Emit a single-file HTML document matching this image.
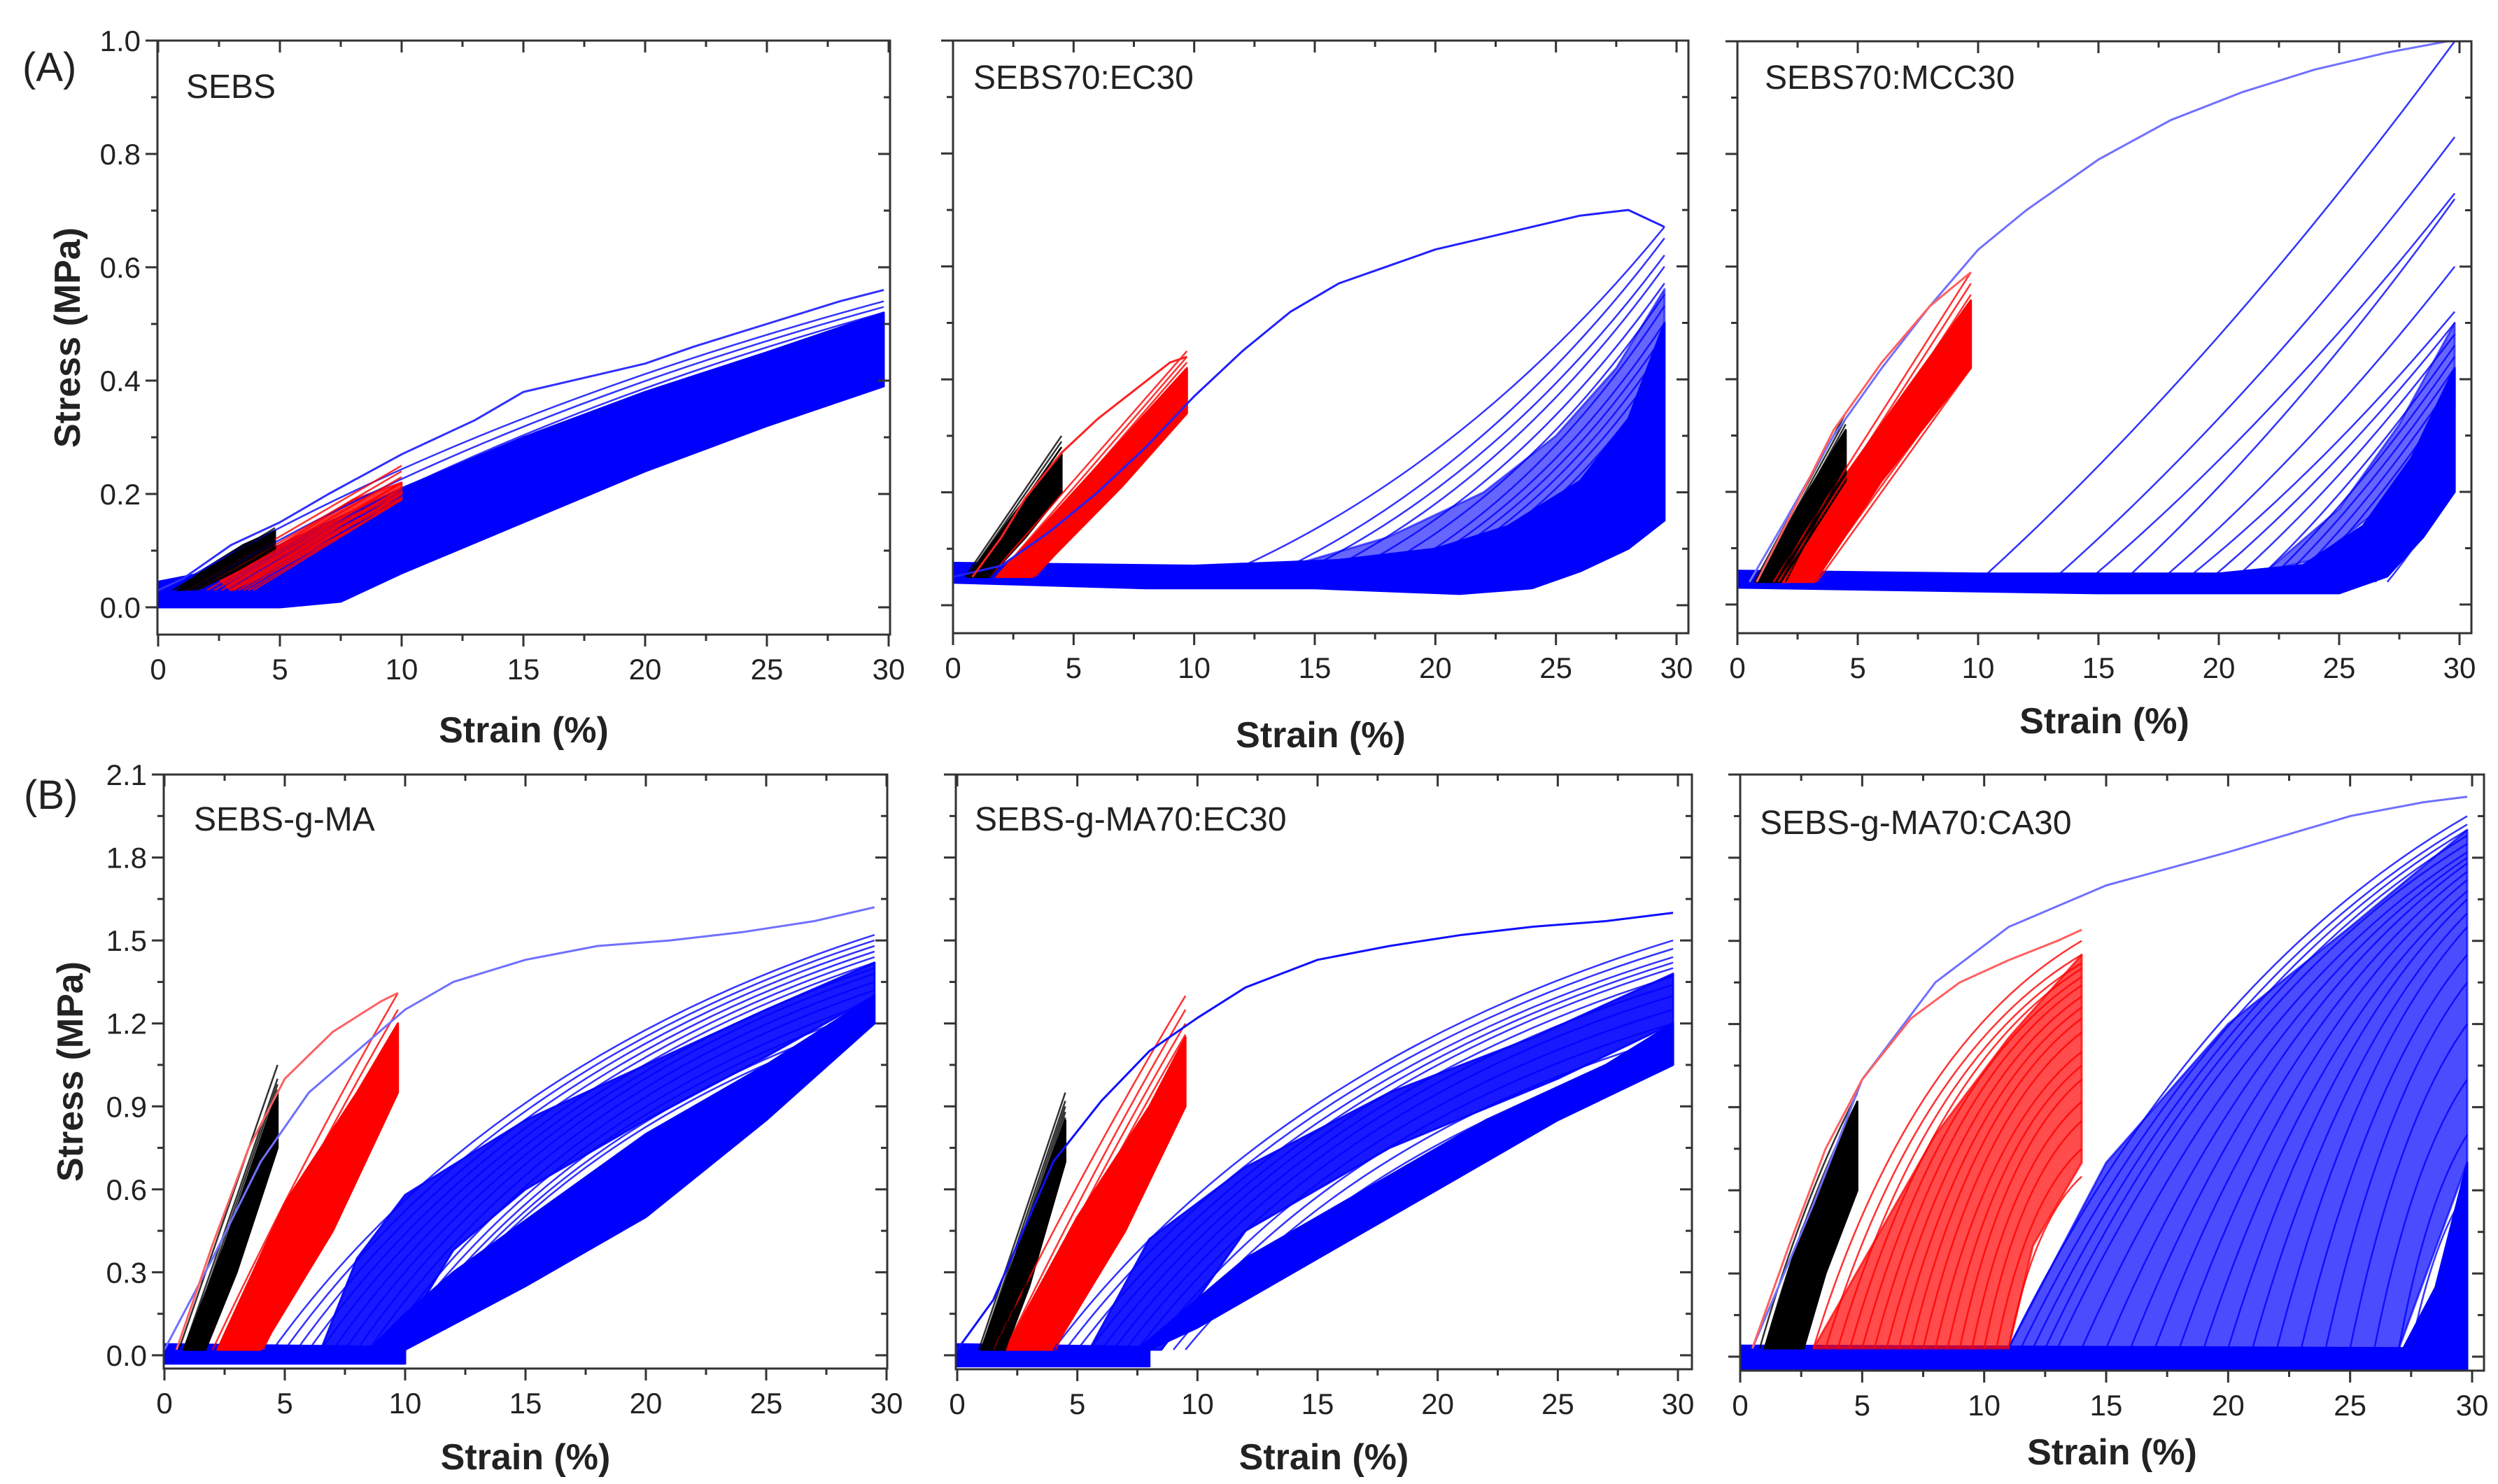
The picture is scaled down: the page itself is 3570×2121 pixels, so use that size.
<!DOCTYPE html>
<html><head><meta charset="utf-8">
<style>
html,body{margin:0;padding:0;background:#fff;}
svg{display:block;}
text{font-family:"Liberation Sans",Arial,sans-serif;fill:#222;}
</style></head>
<body>
<svg id="fig" xmlns="http://www.w3.org/2000/svg" width="3570" height="2121" viewBox="0 0 3570 2121">
<rect x="0" y="0" width="3570" height="2121" fill="#fff"/>
<text x="32" y="116" font-size="58">(A)</text>
<text x="34" y="1156" font-size="58">(B)</text>
</svg>
<script>
// ---------- data arrays (strain %, stress MPa) ----------
const A1_blackStart=[0.6,0.8,0.9,1.0,1.1,1.2,1.3,1.4,1.5,1.6];
const A1_blackPeak=[0.14,0.135,0.13,0.13,0.125,0.12,0.12,0.115,0.11,0.105];
const A1_redStart=[1.2,1.6,2.0,2.3,2.6,2.9,3.1,3.3,3.5,3.7,3.9];
const A1_redPeak=[0.25,0.24,0.23,0.22,0.22,0.21,0.21,0.2,0.2,0.19,0.19];
const A1_blueStart=[0,1,2,2.5,3,3.5,4,4.5,5,5.5,6,6.5,7,7.5,8];
const A1_bluePeak=[0.54,0.53,0.52,0.51,0.5,0.49,0.48,0.47,0.46,0.45,0.44,0.43,0.42,0.41,0.4];
const A1_firstBlue=[[0,0.03],[1,0.05],[2,0.08],[3,0.11],[4,0.13],[5,0.15],[7,0.2],[10,0.27],[13,0.33],[15,0.38],[18,0.41],[20,0.43],[22,0.46],[25,0.5],[28,0.54],[29.8,0.56]];
const A1_blackBand=[[0.8,0.03],[2,0.07],[3.5,0.11],[4.8,0.135],[4.8,0.1],[3,0.06],[1.8,0.035]];
const A1_redBand=[[2.5,0.05],[5,0.11],[8,0.19],[10,0.22],[10,0.19],[8,0.14],[5,0.07],[3,0.03]];
const A1_blueBand=[[0,0.045],[3,0.07],[6,0.13],[10,0.21],[15,0.3],[20,0.38],[25,0.45],[29.8,0.52],[29.8,0.39],[25,0.32],[20,0.24],[15,0.15],[10,0.06],[7.5,0.01],[5,0.0],[2,0.0],[0,0.0]];

const A2_blackStart=[0.5,0.6,0.7,0.8,0.9,1.0,1.1,1.2,1.3,1.4,1.5];
const A2_blackPeak=[0.3,0.29,0.28,0.28,0.27,0.26,0.26,0.25,0.24,0.23,0.22];
const A2_redStart=[1.5,1.8,2.0,2.2,2.4,2.6,2.8,3.0,3.2,3.4];
const A2_redPeak=[0.45,0.44,0.43,0.42,0.41,0.4,0.39,0.38,0.37,0.35];
const A2_firstRed=[[0.8,0.05],[2,0.12],[3,0.19],[4.5,0.27],[6,0.33],[7.5,0.38],[9,0.43],[9.7,0.44]];
const A2_firstBlue=[[0,0.05],[2,0.07],[4,0.13],[6,0.2],[8,0.28],[10,0.37],[12,0.45],[14,0.52],[16,0.57],[18,0.6],[20,0.63],[22,0.65],[24,0.67],[26,0.69],[28,0.7],[29.5,0.67]];
const A2_blueStart=[11,13,14,15,16,17,18,18.5,19,19.5,20,20.5,21,21.5,22,22.5,23,23.5,24,24.5,25];
const A2_bluePeak=[0.67,0.65,0.62,0.6,0.57,0.55,0.53,0.5,0.48,0.46,0.44,0.42,0.4,0.38,0.36,0.34,0.32,0.3,0.27,0.24,0.2];
const A2_blackBand=[[0.6,0.05],[2.5,0.16],[4.5,0.27],[4.5,0.2],[3,0.12],[1.5,0.05]];
const A2_redBand=[[1.8,0.05],[5,0.2],[8,0.34],[9.7,0.42],[9.7,0.34],[7,0.21],[4,0.08],[3.3,0.05]];
const A2_blueBand=[[0,0.075],[10,0.07],[16,0.08],[20,0.1],[23,0.14],[26,0.22],[28,0.33],[29.5,0.5],[29.5,0.15],[28,0.1],[26,0.06],[24,0.03],[21,0.02],[15,0.03],[8,0.03],[0,0.04]];
const A2_blueHaze=[[14,0.07],[18,0.12],[22,0.2],[25,0.3],[27.5,0.42],[29.5,0.56],[29.5,0.4],[27,0.24],[24,0.15],[20,0.09]];

const A3_blackStart=[0.7,0.8,0.9,1.0,1.1,1.2,1.4,1.6,1.8,2.0];
const A3_blackPeak=[0.34,0.33,0.32,0.31,0.3,0.29,0.28,0.27,0.26,0.25];
const A3_redStart=[1.5,1.7,1.9,2.1,2.3,2.5,2.7,2.9,3.1,3.3];
const A3_redPeak=[0.59,0.57,0.55,0.53,0.51,0.49,0.47,0.45,0.43,0.42];
const A3_firstRed=[[0.8,0.04],[2,0.14],[4,0.31],[6,0.43],[8,0.53],[9.7,0.59]];
const A3_firstBlue=[[0.5,0.04],[2,0.15],[4,0.3],[6,0.42],[8,0.53],[10,0.63],[12,0.7],[15,0.79],[18,0.86],[21,0.91],[24,0.95],[27,0.98],[29.5,1.0]];
const A3_blueStart=[10,13,14.5,16,17.5,18.5,19.5,20.5,21.5,22,22.5,23,23.5,24,24.5,25,25.5,26,26.5,27];
const A3_bluePeak=[1.0,0.83,0.73,0.72,0.6,0.52,0.5,0.48,0.46,0.44,0.42,0.4,0.38,0.36,0.34,0.32,0.3,0.28,0.25,0.22];
const A3_blackBand=[[0.8,0.04],[2.5,0.17],[4.5,0.31],[4.5,0.22],[3,0.12],[1.8,0.04]];
const A3_redBand=[[1.8,0.04],[4,0.2],[7,0.38],[9.7,0.54],[9.7,0.42],[6,0.22],[3.2,0.04]];
const A3_blueBand=[[0,0.06],[10,0.055],[20,0.055],[23.5,0.07],[26,0.14],[28,0.26],[29.8,0.42],[29.8,0.2],[28.5,0.12],[27,0.05],[25,0.02],[15,0.02],[0,0.03]];
const A3_blueHaze=[[22,0.06],[25,0.17],[27.5,0.32],[29.8,0.5],[29.8,0.35],[27,0.18],[24,0.08]];

const B1_blackStart=[0.6,0.8,0.9,1.0,1.1,1.2,1.3,1.4,1.5,1.6,1.7];
const B1_blackPeak=[1.05,1.0,0.98,0.96,0.94,0.92,0.9,0.87,0.84,0.8,0.76];
const B1_redStart=[2.0,2.3,2.5,2.7,2.9,3.1,3.3,3.5,3.7,3.9,4.1];
const B1_redPeak=[1.31,1.25,1.2,1.17,1.14,1.1,1.07,1.04,1.0,0.97,0.95];
const B1_firstRed=[[0.5,0.02],[2,0.4],[3.5,0.75],[5,1.0],[7,1.17],[9,1.28],[9.7,1.31]];
const B1_firstBlue=[[0,0.02],[2,0.35],[4,0.7],[6,0.95],[8,1.1],[10,1.25],[12,1.35],[15,1.43],[18,1.48],[21,1.5],[24,1.53],[27,1.57],[29.5,1.62]];
const B1_blueStart=[4.5,5,5.5,6,6.5,7,7.5,8,8.5,9,9.3,9.6,9.8,10];
const B1_bluePeak=[1.52,1.5,1.48,1.46,1.44,1.42,1.4,1.38,1.35,1.32,1.28,1.25,1.22,1.2];
const B1_blackBand=[[0.8,0.02],[2.5,0.4],[4.7,0.95],[4.7,0.75],[3,0.3],[1.7,0.02]];
const B1_redBand=[[2.2,0.02],[5,0.55],[8,0.95],[9.7,1.2],[9.7,0.95],[7,0.45],[4,0.02]];
const B1_blueBand=[[8.5,0.02],[10,0.15],[12,0.3],[16,0.55],[20,0.8],[25,1.05],[29.5,1.3],[29.5,1.2],[25,0.85],[20,0.5],[15,0.25],[10,0.02]];
const B1_blueBand2=[[6.5,0.02],[8,0.35],[10,0.58],[15,0.85],[20,1.05],[25,1.25],[29.5,1.42],[29.5,1.3],[25,1.08],[20,0.85],[15,0.6],[12,0.38],[9.5,0.02]];
const B1_baseBand=[[0,0.04],[10,0.03],[10,-0.03],[0,-0.03]];

const B2_blackStart=[0.9,1.0,1.1,1.2,1.3,1.4,1.5,1.6,1.7,1.8,2.0];
const B2_blackPeak=[0.95,0.92,0.9,0.88,0.86,0.84,0.82,0.8,0.78,0.76,0.72];
const B2_redStart=[1.5,2,2.3,2.6,2.9,3.2,3.5,3.8,4.1];
const B2_redPeak=[1.3,1.25,1.2,1.16,1.12,1.08,1.05,1.02,0.98];
const B2_firstBlue=[[0,0.02],[1.5,0.2],[3,0.5],[4,0.7],[6,0.92],[8,1.1],[10,1.22],[12,1.33],[15,1.43],[18,1.48],[21,1.52],[24,1.55],[27,1.57],[29.8,1.6]];
const B2_blueStart=[4,4.5,5,5.5,6,6.5,7,7.5,8,8.5,9,9.5];
const B2_bluePeak=[1.5,1.47,1.44,1.42,1.4,1.37,1.34,1.3,1.25,1.2,1.15,1.1];
const B2_blackBand=[[1,0.02],[2.8,0.45],[4.5,0.85],[4.5,0.7],[3,0.25],[2,0.02]];
const B2_redBand=[[2,0.02],[5,0.5],[8,0.9],[9.5,1.15],[9.5,0.9],[7,0.45],[4,0.02]];
const B2_blueBand=[[7.5,0.02],[12,0.35],[17,0.6],[22,0.85],[27,1.05],[29.8,1.2],[29.8,1.05],[25,0.85],[20,0.6],[15,0.35],[10,0.1],[8,0.02]];
const B2_blueBand2=[[5.5,0.02],[8,0.42],[12,0.68],[18,0.95],[24,1.15],[29.8,1.38],[29.8,1.2],[25,1.0],[18,0.75],[12,0.45],[8.5,0.02]];
const B2_baseBand=[[0,0.04],[8,0.03],[8,-0.04],[0,-0.04]];

const B3_blackStart=[0.8,1.0,1.2,1.4,1.6,1.8,2.0,2.2,2.4,2.6];
const B3_blackPeak=[0.95,0.92,0.88,0.85,0.82,0.78,0.74,0.7,0.65,0.6];
const B3_redStart=[3,3.5,4,4.5,5,5.5,6,6.5,7,7.5,8,8.5,9,9.5,10,10.5,11];
const B3_redPeak=[1.5,1.45,1.42,1.4,1.37,1.34,1.3,1.26,1.22,1.17,1.1,1.05,1.0,0.92,0.85,0.75,0.65];
const B3_firstRed=[[0.5,0.03],[2,0.4],[3.5,0.75],[5,1.0],[7,1.22],[9,1.35],[11,1.43],[13,1.5],[14,1.54]];
const B3_firstBlue=[[0.5,0.03],[3,0.55],[5,1.0],[8,1.35],[11,1.55],[15,1.7],[20,1.82],[25,1.95],[28,2.0],[29.8,2.02]];
const B3_blueStart=[11,11.5,12,12.5,13,14,15,16,17,18,19,20,21,22,23,24,25,26,27,27.5];
const B3_bluePeak=[1.95,1.92,1.9,1.88,1.85,1.82,1.8,1.78,1.75,1.72,1.68,1.65,1.6,1.55,1.45,1.35,1.2,1.0,0.8,0.6];
const B3_blackBand=[[1,0.03],[2.5,0.45],[4.8,0.92],[4.8,0.6],[3.5,0.3],[2.6,0.03]];
const B3_redBand=[[3,0.03],[8,0.8],[11,1.15],[14,1.45],[14,0.7],[12,0.4],[11,0.03]];
const B3_blueBand=[[11,0.03],[15,0.7],[20,1.2],[25,1.55],[29.8,1.9],[29.8,0.7],[27,0.03]];
const B3_blueBand2=[[27,0.0],[28.5,0.25],[29.8,0.7],[29.8,0.0]];
const B3_baseBand=[[0,0.04],[29.8,0.03],[29.8,-0.06],[0,-0.06]];

const xTickLabels=["0","5","10","15","20","25","30"];
const yTicksA=["0.0","0.2","0.4","0.6","0.8","1.0"];
const yTicksB=["0.0","0.3","0.6","0.9","1.2","1.5","1.8","2.1"];

// ---------- layout ----------
const NS="http://www.w3.org/2000/svg";
const svg=document.getElementById('fig');
function mk(tag,attrs,parent){const e=document.createElementNS(NS,tag);for(const k in attrs)e.setAttribute(k,attrs[k]);(parent||svg).appendChild(e);return e;}

const panels=[
 {id:'a1',title:'SEBS',L:225,R:1272,T:58,B:907,X0:226,X30:1270,Y0:868,ymax:1.0,yl:yTicksA,showY:true,tx:266,ty:140,sx:1061,
  bands:[[A1_blueBand,'#0000ff',1],[A1_redBand,'#ff0000',0.8],[A1_blackBand,'#000',1]],
  groups:[[A1_blueStart,A1_bluePeak,29.8,0.02,0.4,0.6,'#0000ff'],[A1_redStart,A1_redPeak,10,0.03,0.5,0.5,'#ff0000'],[A1_blackStart,A1_blackPeak,4.8,0.03,0.5,0.5,'#000']],
  firsts:[[A1_firstBlue,'#3030ff']]},
 {id:'a2',title:'SEBS70:EC30',L:1362,R:2413,T:58,B:905,X0:1362,X30:2396,Y0:865,ymax:1.0,yl:yTicksA,showY:false,tx:1391,ty:127,sx:1068,
  bands:[[A2_blueHaze,'#0000ff',0.6],[A2_blueBand,'#0000ff',1],[A2_redBand,'#ff0000',1],[A2_blackBand,'#000',1]],
  groups:[[A2_blueStart,A2_bluePeak,29.5,0.05,0.55,0.3,'#0000ff'],[A2_redStart,A2_redPeak,9.7,0.05,0.5,0.5,'#ff0000'],[A2_blackStart,A2_blackPeak,4.5,0.05,0.5,0.5,'#000']],
  firsts:[[A2_firstBlue,'#2020ff'],[A2_firstRed,'#ff2020']]},
 {id:'a3',title:'SEBS70:MCC30',L:2483,R:3532,T:59,B:905,X0:2483,X30:3515,Y0:864,ymax:1.0,yl:yTicksA,showY:false,tx:2522,ty:127,sx:1048,
  bands:[[A3_blueHaze,'#0000ff',0.6],[A3_blueBand,'#0000ff',1],[A3_redBand,'#ff0000',1],[A3_blackBand,'#000',1]],
  groups:[[A3_blueStart,A3_bluePeak,29.8,0.04,0.5,0.4,'#0000ff'],[A3_redStart,A3_redPeak,9.7,0.04,0.5,0.5,'#ff0000'],[A3_blackStart,A3_blackPeak,4.5,0.04,0.5,0.5,'#000']],
  firsts:[[A3_firstBlue,'#7070ff'],[A3_firstRed,'#ff6060']]},
 {id:'b1',title:'SEBS-g-MA',L:234,R:1268,T:1107,B:1956,X0:235,X30:1267,Y0:1937,ymax:2.1,yl:yTicksB,showY:true,tx:277,ty:1187,sx:2100,
  bands:[[B1_baseBand,'#0000ff',1],[B1_blueBand2,'#0000ff',0.9],[B1_blueBand,'#0000ff',1],[B1_redBand,'#ff0000',1],[B1_blackBand,'#000',1]],
  groups:[[B1_blueStart,B1_bluePeak,29.5,0.02,0.35,0.7,'#0000ff'],[B1_redStart,B1_redPeak,9.7,0.02,0.5,0.55,'#ff0000'],[B1_blackStart,B1_blackPeak,4.7,0.02,0.5,0.5,'#000']],
  firsts:[[B1_firstBlue,'#7070ff'],[B1_firstRed,'#ff6060']]},
 {id:'b2',title:'SEBS-g-MA70:EC30',L:1366,R:2418,T:1107,B:1957,X0:1368,X30:2398,Y0:1937,ymax:2.1,yl:yTicksB,showY:false,tx:1393,ty:1187,sx:2100,
  bands:[[B2_baseBand,'#0000ff',1],[B2_blueBand2,'#0000ff',0.9],[B2_blueBand,'#0000ff',1],[B2_redBand,'#ff0000',1],[B2_blackBand,'#000',1]],
  groups:[[B2_blueStart,B2_bluePeak,29.8,0.02,0.35,0.7,'#0000ff'],[B2_redStart,B2_redPeak,9.5,0.02,0.5,0.55,'#ff0000'],[B2_blackStart,B2_blackPeak,4.5,0.02,0.5,0.5,'#000']],
  firsts:[[B2_firstBlue,'#1010ff']]},
 {id:'b3',title:'SEBS-g-MA70:CA30',L:2487,R:3550,T:1107,B:1959,X0:2487,X30:3533,Y0:1939,ymax:2.1,yl:yTicksB,showY:false,tx:2515,ty:1192,sx:2093,
  bands:[[B3_baseBand,'#0000ff',1],[B3_blueBand,'#0000ff',0.7],[B3_blueBand2,'#0000ff',1],[B3_redBand,'#ff0000',0.7],[B3_blackBand,'#000',1]],
  groups:[[B3_blueStart,B3_bluePeak,29.8,0.03,0.4,0.7,'#0000ff'],[B3_redStart,B3_redPeak,14,0.03,0.35,0.75,'#ff0000'],[B3_blackStart,B3_blackPeak,4.8,0.03,0.45,0.6,'#000']],
  firsts:[[B3_firstBlue,'#7070ff'],[B3_firstRed,'#ff6060']]}
];

panels.forEach(p=>{
  const g=mk('g',{});
  
  
  const xs=v=>p.X0+v*(p.X30-p.X0)/30;
  const ys=v=>p.Y0-v*(p.Y0-p.T)/p.ymax;
  const cp=mk('clipPath',{id:'clip-'+p.id},g);
  mk('rect',{x:p.L,y:p.T,width:p.R-p.L,height:p.B-p.T},cp);
  const data=mk('g',{'clip-path':'url(#clip-'+p.id+')'},g);
  
  
  p.bands.forEach(([pts,col,op])=>{
    const e=mk('polygon',{points:pts.map(q=>xs(q[0]).toFixed(1)+','+ys(q[1]).toFixed(1)).join(' '),fill:col,'fill-opacity':op,stroke:col,'stroke-width':3,'stroke-opacity':op,'stroke-linejoin':'round'},data);
    
    
  });
  p.groups.forEach(([st,pk,xm,base,cx,cy,col])=>{
    st.forEach((s,i)=>{
      const x1=xs(s),y1=ys(base),x2=xs(xm),y2=ys(pk[i]);
      const qx=x1+(x2-x1)*cx,qy=y1+(y2-y1)*cy;
      const e=mk('path',{d:`M${x1.toFixed(1)},${y1.toFixed(1)} Q${qx.toFixed(1)},${qy.toFixed(1)} ${x2.toFixed(1)},${y2.toFixed(1)}`,fill:'none',stroke:col,'stroke-width':2.5,'stroke-opacity':0.8},data);
      
      
    });
  });
  p.firsts.forEach(([pts,col])=>{
    const e=mk('polyline',{points:pts.map(q=>xs(q[0]).toFixed(1)+','+ys(q[1]).toFixed(1)).join(' '),fill:'none',stroke:col,'stroke-width':3,'stroke-linejoin':'round'},data);
    
    
  });
  const fr=mk('rect',{x:p.L,y:p.T,width:p.R-p.L,height:p.B-p.T,fill:'none',stroke:'#333','stroke-width':3},g);
  
  
  for(let k=0;k<=12;k++){
    const v=k*2.5,x=xs(v),len=k%2?9:17;
    mk('line',{x1:x,y1:p.B,x2:x,y2:p.B+len,stroke:'#333','stroke-width':3},g);
    mk('line',{x1:x,y1:p.T,x2:x,y2:p.T+len,stroke:'#333','stroke-width':3},g);
  }
  xTickLabels.forEach((lab,i)=>{
    const t=mk('text',{x:xs(i*5),y:p.B+64,'font-size':42,'text-anchor':'middle'},g);
    t.textContent=lab;
    
    
  });
  const step=p.ymax===1.0?0.2:0.3;
  p.yl.forEach((lab,i)=>{
    const v=i*step,y=ys(v);
    mk('line',{x1:p.L-17,y1:y,x2:p.L,y2:y,stroke:'#333','stroke-width':3},g);
    mk('line',{x1:p.R-17,y1:y,x2:p.R,y2:y,stroke:'#333','stroke-width':3},g);
    if(i<p.yl.length-1){const ym=ys(v+step/2);
      mk('line',{x1:p.L-9,y1:ym,x2:p.L,y2:ym,stroke:'#333','stroke-width':3},g);
      mk('line',{x1:p.R-9,y1:ym,x2:p.R,y2:ym,stroke:'#333','stroke-width':3},g);}
    if(p.showY){
      const t=mk('text',{x:p.L-24,y:y+15,'font-size':42,'text-anchor':'end'},g);
      t.textContent=lab;
      
      
    }
  });
  const tt=mk('text',{x:p.tx,y:p.ty,'font-size':48},g);
  tt.textContent=p.title;
  
  
  const xt=mk('text',{x:(p.L+p.R)/2,y:p.sx,'font-size':52,'font-weight':'bold','text-anchor':'middle'},g);
  xt.textContent='Strain (%)';
  
  
  if(p.showY){
    const cy=(p.T+p.B)/2, cx=p.id==='a1'?96:100;
    const yt=mk('text',{x:cx,y:cy,'font-size':52,'font-weight':'bold','text-anchor':'middle',transform:`rotate(-90 ${cx} ${cy}) translate(0 18)`},g);
    yt.textContent='Stress (MPa)';
    
    
  }
});
</script>
</body></html>
